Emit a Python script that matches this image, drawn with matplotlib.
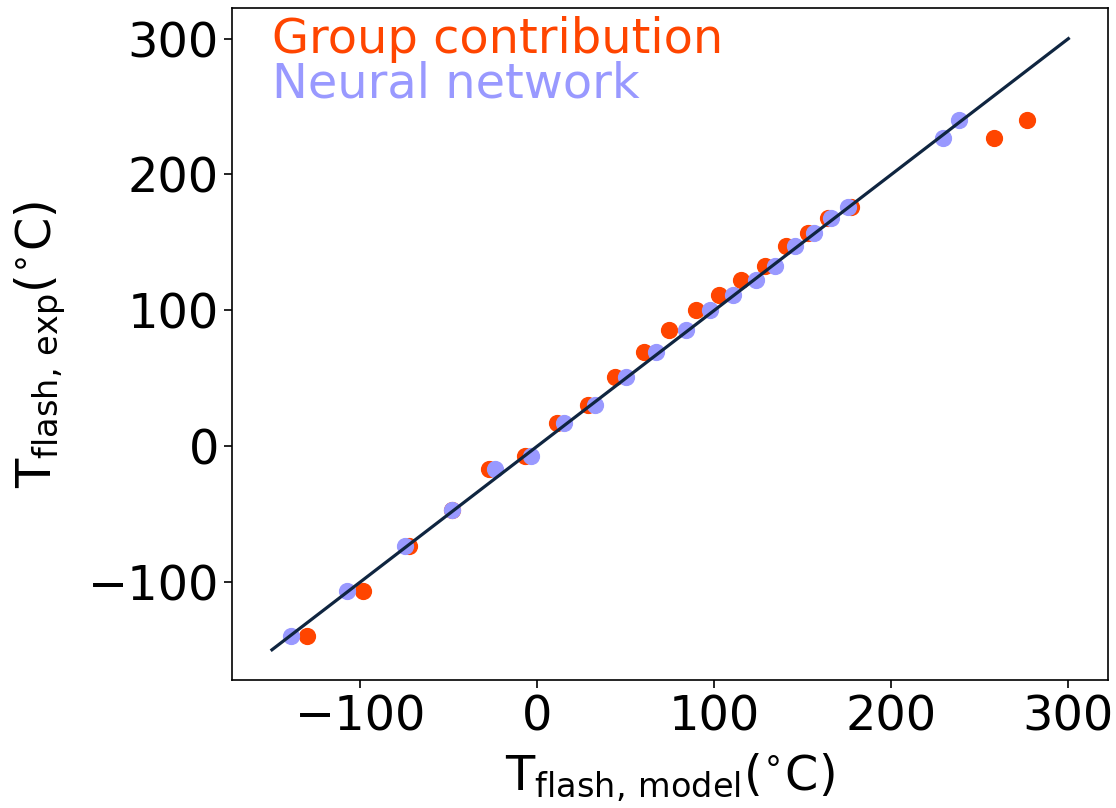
import matplotlib.pyplot as plt

# experimental flash points (deg C), shared by both models
t_exp = [-139.5, -106.8, -73.8, -47, -17.2, -7.4, 16.8, 30, 50.5, 69.6, 85.6,
         100.4, 111.4, 122.5, 132.3, 147.1, 157, 168, 176.2, 226.6, 240]
# group contribution predictions
t_gc = [-130, -98.3, -72.4, -48, -27.6, -7.2, 10.9, 28.5, 44, 60.2, 74.3,
        89.4, 102.6, 115.3, 128.5, 140.7, 153, 164.3, 177.1, 258.2, 276.9]
# neural network predictions
t_nn = [-139, -107.5, -74.7, -48, -23.8, -3.4, 15.3, 32.8, 50.2, 67.2, 83.8,
        97.7, 110.5, 123.4, 134.1, 145.4, 156.2, 165.6, 175.3, 229, 238.3]
parity = [-150, 300]

plt.rcParams["font.size"] = 34.5
plt.rcParams["xtick.major.size"] = 6
plt.rcParams["ytick.major.size"] = 6
plt.rcParams["xtick.major.width"] = 1.2
plt.rcParams["ytick.major.width"] = 1.2
plt.rcParams["axes.linewidth"] = 1.2

fig = plt.figure(figsize=(11.16, 8.08), dpi=100)
ax = fig.add_axes([0.208, 0.158, 0.785, 0.832])

ax.scatter(t_gc, t_exp, s=130, color="#FF4500", zorder=2)
ax.scatter(t_nn, t_exp, s=130, color="#9999FF", zorder=3)
ax.plot(parity, parity, color="#0F2540", lw=2.3, zorder=4)

ax.text(0.045, 0.988, "Group contribution", color="#FF4500",
        transform=ax.transAxes, va="top")
ax.text(0.045, 0.922, "Neural network", color="#9999FF",
        transform=ax.transAxes, va="top")

ax.set_xlim(-172.5, 322.5)
ax.set_ylim(-172.5, 322.5)
ax.set_xticks([-100, 0, 100, 200, 300])
ax.set_yticks([-100, 0, 100, 200, 300])
ax.set_xlabel(r"T$_{\mathrm{flash,\,model}}$($^{\circ}$C)")
ax.set_ylabel(r"T$_{\mathrm{flash,\,exp}}$($^{\circ}$C)")
ax.xaxis.set_label_coords(0.5, -0.106)
ax.yaxis.set_label_coords(-0.187, 0.5)

fig.savefig("out.png", dpi=100)
